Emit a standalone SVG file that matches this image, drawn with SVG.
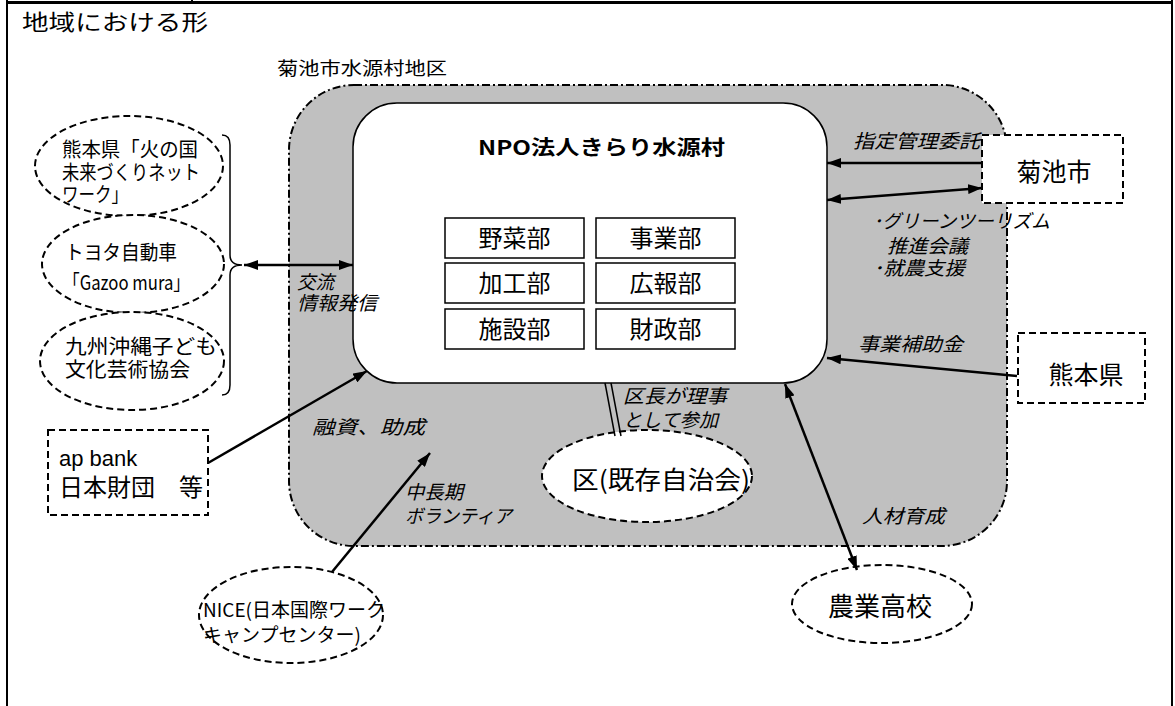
<svg xmlns="http://www.w3.org/2000/svg" width="1175" height="706" viewBox="0 0 1175 706">
<defs>
<marker id="ah" viewBox="0 0 14 10" refX="14" refY="5" markerWidth="14" markerHeight="10" markerUnits="userSpaceOnUse" orient="auto-start-reverse">
<path d="M0,0 L14,5 L0,10 z" fill="#000"/>
</marker>
<style>
text{font-family:"Noto Sans CJK JP","Noto Sans",sans-serif;fill:#000}
.lat{font-family:"Liberation Sans","Noto Sans CJK JP",sans-serif}
.it{font-style:italic;font-size:19px}
.dash{fill:#fff;stroke:#000;stroke-width:2;stroke-dasharray:7 4}
.dept{fill:#fff;stroke:#000;stroke-width:1.5}
.dt{font-size:24px;text-anchor:middle}
.et{font-size:20px}
.arr{stroke:#000;stroke-width:2.5;fill:none}
</style>
</defs>
<rect width="1175" height="706" fill="#fff"/>
<g id="frame" stroke="#000" fill="none">
<line x1="7" y1="2.5" x2="1173" y2="2.5" stroke-width="3"/>
<line x1="7" y1="0" x2="7" y2="706" stroke-width="2"/>
<line x1="1172" y1="0" x2="1172" y2="706" stroke-width="2"/>
<line x1="192" y1="0" x2="192" y2="4" stroke-width="2"/>
</g>
<text x="22" y="30" font-size="22" textLength="186" lengthAdjust="spacingAndGlyphs">地域における形</text>
<g id="region">
<rect x="289" y="85" width="718" height="461" rx="65" ry="65" fill="#c0c0c0" stroke="#000" stroke-width="2" stroke-dasharray="8 3 2 3"/>
<text x="277" y="75" font-size="18" textLength="170" lengthAdjust="spacingAndGlyphs">菊池市水源村地区</text>
</g>
<g id="npo">
<rect x="353" y="103" width="474" height="280" rx="44" ry="44" fill="#fff" stroke="#000" stroke-width="1.5"/>
<text x="478" y="155" font-size="20" font-weight="bold" textLength="247" lengthAdjust="spacingAndGlyphs">NPO法人きらり水源村</text>
</g>
<g id="depts">
<g id="dept-yasai"><rect class="dept" x="445" y="218" width="139" height="40"/><text class="dt" x="514.5" y="247">野菜部</text></g>
<g id="dept-jigyo"><rect class="dept" x="596" y="218" width="139" height="40"/><text class="dt" x="665.5" y="247">事業部</text></g>
<g id="dept-kako"><rect class="dept" x="445" y="263" width="139" height="40"/><text class="dt" x="514.5" y="292">加工部</text></g>
<g id="dept-koho"><rect class="dept" x="596" y="263" width="139" height="40"/><text class="dt" x="665.5" y="292">広報部</text></g>
<g id="dept-shisetsu"><rect class="dept" x="445" y="309" width="139" height="40"/><text class="dt" x="514.5" y="338">施設部</text></g>
<g id="dept-zaisei"><rect class="dept" x="596" y="309" width="139" height="40"/><text class="dt" x="665.5" y="338">財政部</text></g>
</g>
<g id="hinokuni">
<ellipse class="dash" cx="129" cy="166" rx="94" ry="50"/>
<text class="et" x="62" y="157" textLength="136" lengthAdjust="spacingAndGlyphs">熊本県「火の国</text>
<text class="et" x="62" y="180" textLength="138" lengthAdjust="spacingAndGlyphs">未来づくりネット</text>
<text class="et" x="62" y="202" textLength="66" lengthAdjust="spacingAndGlyphs">ワーク」</text>
</g>
<g id="toyota">
<ellipse class="dash" cx="133" cy="264" rx="91" ry="49"/>
<text class="et" x="65" y="260" textLength="112" lengthAdjust="spacingAndGlyphs">トヨタ自動車</text>
<text class="et" x="63" y="290" textLength="127" lengthAdjust="spacingAndGlyphs">「Gazoo mura」</text>
</g>
<g id="kyushu">
<ellipse class="dash" cx="132" cy="361" rx="92" ry="49"/>
<text class="et" x="65" y="354" textLength="152" lengthAdjust="spacingAndGlyphs">九州沖縄子ども</text>
<text class="et" x="65" y="377" textLength="125" lengthAdjust="spacingAndGlyphs">文化芸術協会</text>
</g>
<g id="brace">
<path d="M222,135 Q230,135 230,145 L230,255 Q230,265 242,265 Q230,265 230,275 L230,385 Q230,395 222,395" fill="none" stroke="#000" stroke-width="1.5"/>
</g>
<g id="kikuchi">
<rect class="dash" x="982" y="135" width="141" height="68"/>
<text x="1054" y="181" font-size="25" text-anchor="middle">菊池市</text>
</g>
<g id="kumamoto">
<rect class="dash" x="1018" y="333" width="127" height="70"/>
<text x="1086" y="384" font-size="25" text-anchor="middle">熊本県</text>
</g>
<g id="apbank">
<rect class="dash" x="48" y="430" width="160" height="85"/>
<text class="lat" x="59" y="466" font-size="22">ap bank</text>
<text x="59" y="496" font-size="24">日本財団　等</text>
</g>
<g id="nice">
<ellipse class="dash" cx="291" cy="615" rx="92" ry="48"/>
<text x="203" y="617" font-size="19">NICE(日本国際ワーク</text>
<text x="203" y="642" font-size="19">キャンプセンター)</text>
</g>
<g id="ku">
<ellipse class="dash" cx="647" cy="476" rx="105" ry="46"/>
<text x="572" y="489" font-size="25" textLength="178" lengthAdjust="spacingAndGlyphs">区(既存自治会)</text>
</g>
<g id="nogyo">
<ellipse class="dash" cx="882" cy="604" rx="90" ry="39"/>
<text x="880" y="616" font-size="26" text-anchor="middle">農業高校</text>
</g>
<g id="connectors">
<line class="arr" x1="244" y1="265" x2="353" y2="265" marker-start="url(#ah)" marker-end="url(#ah)"/>
<line class="arr" x1="982" y1="163" x2="827" y2="163" marker-end="url(#ah)"/>
<line class="arr" x1="827" y1="200" x2="982" y2="188" marker-start="url(#ah)" marker-end="url(#ah)"/>
<line class="arr" x1="1017" y1="376" x2="827" y2="358" marker-end="url(#ah)"/>
<line class="arr" x1="208" y1="463" x2="367" y2="371" marker-end="url(#ah)"/>
<line class="arr" x1="332" y1="572" x2="430" y2="453" marker-end="url(#ah)"/>
<line class="arr" x1="785" y1="384" x2="857" y2="570" marker-start="url(#ah)" marker-end="url(#ah)"/>
<line x1="605" y1="383" x2="615" y2="436" stroke="#000" stroke-width="1.5"/>
<line x1="611" y1="383" x2="621" y2="436" stroke="#000" stroke-width="1.5"/>
</g>
<g id="labels">
<text class="it" x="297" y="289" textLength="37" lengthAdjust="spacingAndGlyphs">交流</text>
<text class="it" x="297" y="310" textLength="80" lengthAdjust="spacingAndGlyphs">情報発信</text>
<text class="it" x="853" y="148" textLength="127" lengthAdjust="spacingAndGlyphs">指定管理委託</text>
<text class="it" x="873" y="228" textLength="177" lengthAdjust="spacingAndGlyphs">･グリーンツーリズム</text>
<text class="it" x="887" y="253" textLength="81" lengthAdjust="spacingAndGlyphs">推進会議</text>
<text class="it" x="873" y="275" textLength="92" lengthAdjust="spacingAndGlyphs">･就農支援</text>
<text class="it" x="858" y="351" textLength="105" lengthAdjust="spacingAndGlyphs">事業補助金</text>
<text class="it" x="312" y="434" textLength="113" lengthAdjust="spacingAndGlyphs">融資、助成</text>
<text class="it" x="405" y="499" textLength="58" lengthAdjust="spacingAndGlyphs">中長期</text>
<text class="it" x="405" y="523" textLength="107" lengthAdjust="spacingAndGlyphs">ボランティア</text>
<text class="it" x="623" y="403" textLength="104" lengthAdjust="spacingAndGlyphs">区長が理事</text>
<text class="it" x="623" y="427" textLength="95" lengthAdjust="spacingAndGlyphs">として参加</text>
<text class="it" x="862" y="523" textLength="83" lengthAdjust="spacingAndGlyphs">人材育成</text>
</g>
</svg>
